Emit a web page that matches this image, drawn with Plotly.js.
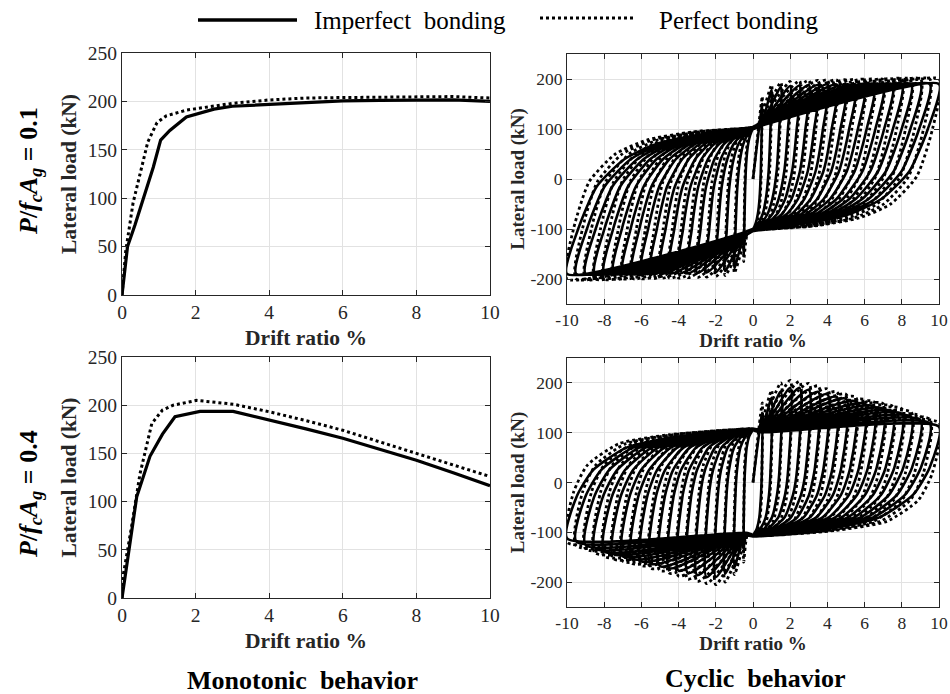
<!DOCTYPE html>
<html><head><meta charset="utf-8">
<script src="https://cdn.plot.ly/plotly-3.0.1.min.js"></script>
<style>html,body{margin:0;padding:0;background:#fff}#chart{width:950px;height:694px}</style>
</head><body><div id="chart"></div>
<script>
// ---------- Monotonic, P/f'cAg = 0.1 ----------
const m1_imp_x  = [0, 0.15, 0.35, 0.6, 0.85, 1.05, 1.3, 1.75, 2.5, 3, 4, 5, 6, 7, 8, 9, 10];
const m1_imp_y  = [0, 50, 72, 102, 132, 160, 170, 184, 192, 195, 197, 199, 200.5, 201, 201.5, 201.5, 200];
const m1_perf_x = [0, 0.1, 0.3, 0.5, 0.7, 0.95, 1.2, 1.75, 2.5, 3, 4, 5, 6, 7, 8, 9, 10];
const m1_perf_y = [0, 45, 95, 128, 158, 178, 185, 191, 195, 198, 201.5, 203.5, 204, 204.5, 205, 205, 203.5];
// ---------- Monotonic, P/f'cAg = 0.4 ----------
const m2_imp_x  = [0, 0.17, 0.4, 0.76, 1.1, 1.44, 2.12, 3.02, 4.02, 5, 6, 7, 8, 9, 10];
const m2_imp_y  = [0, 46, 105, 147, 170, 188, 193.5, 193.5, 184.6, 175.5, 165.7, 154.5, 143, 130, 116.5];
const m2_perf_x = [0, 0.04, 0.26, 0.49, 0.81, 1.1, 1.39, 2.03, 3.03, 4.02, 5, 6, 7, 8, 9, 10];
const m2_perf_y = [0, 25, 74, 129, 181, 195, 200, 205, 201, 193, 184, 174, 162, 150, 138, 126];

// ---------- Cyclic: drift amplitudes of the loops (%) ----------
const cyc_amp = [0.5, 1, 1.5, 2, 2.5, 3, 3.5, 4, 4.5, 5, 5.5, 6, 6.5, 7, 7.5, 8, 8.5, 9, 9.5, 10];

// Cyclic, P/f'cAg = 0.1 — imperfect bonding
const c1_imp_peak  = [150, 178, 184, 186, 187, 188, 188, 189, 189, 189, 189.5, 190, 190, 190, 190, 190, 190, 190, 190, 190];
const c1_imp_arcY  = [-100, -15, 40, 70, 88];
const c1_imp_tail  = 100;
const c1_imp_pinch = [0.4, 106];
const c1_imp_arcX  = [
  [-0.47, -0.42, -0.35, -0.26, -0.15],
  [-0.94, -0.84, -0.69, -0.52, -0.3],
  [-1.41, -1.27, -1.04, -0.78, -0.45],
  [-1.88, -1.68, -1.38, -1.04, -0.6],
  [-2.35, -2.1, -1.73, -1.3, -0.75],
  [-2.82, -2.52, -2.07, -1.56, -0.9],
  [-3.29, -2.94, -2.42, -1.82, -1.05],
  [-3.76, -3.36, -2.76, -2.08, -1.2],
  [-4.23, -3.78, -3.1, -2.34, -1.35],
  [-4.7, -4.2, -3.45, -2.6, -1.5],
  [-5.17, -4.62, -3.8, -2.86, -1.65],
  [-5.64, -5.04, -4.14, -3.12, -1.8],
  [-6.11, -5.46, -4.49, -3.38, -1.95],
  [-6.58, -5.88, -4.83, -3.64, -2.1],
  [-7.05, -6.3, -5.18, -3.9, -2.25],
  [-7.52, -6.72, -5.52, -4.16, -2.4],
  [-7.99, -7.14, -5.87, -4.42, -2.55],
  [-8.46, -7.56, -6.21, -4.68, -2.7],
  [-8.93, -7.98, -6.56, -4.94, -2.85],
  [-9.4, -8.4, -6.9, -5.2, -3.0]
];
// Cyclic, P/f'cAg = 0.1 — perfect bonding
const c1_perf_peak  = [165, 188, 193, 195, 196, 197, 197, 198, 198, 198, 198.5, 199, 199, 199, 199.5, 200, 200, 200, 200, 200];
const c1_perf_arcY  = [-100, -5, 50, 78, 94];
const c1_perf_tail  = 104;
const c1_perf_pinch = [0.3, 110];
const c1_perf_arcX  = [
  [-0.48, -0.44, -0.37, -0.29, -0.17],
  [-0.97, -0.88, -0.74, -0.57, -0.33],
  [-1.45, -1.32, -1.11, -0.86, -0.5],
  [-1.93, -1.76, -1.48, -1.14, -0.66],
  [-2.41, -2.2, -1.85, -1.43, -0.83],
  [-2.9, -2.64, -2.22, -1.71, -0.99],
  [-3.38, -3.08, -2.59, -2.0, -1.16],
  [-3.86, -3.52, -2.96, -2.28, -1.32],
  [-4.34, -3.96, -3.33, -2.57, -1.49],
  [-4.83, -4.4, -3.7, -2.85, -1.65],
  [-5.31, -4.84, -4.07, -3.14, -1.82],
  [-5.79, -5.28, -4.44, -3.42, -1.98],
  [-6.27, -5.72, -4.81, -3.71, -2.15],
  [-6.76, -6.16, -5.18, -3.99, -2.31],
  [-7.24, -6.6, -5.55, -4.28, -2.48],
  [-7.72, -7.04, -5.92, -4.56, -2.64],
  [-8.2, -7.48, -6.29, -4.85, -2.81],
  [-8.69, -7.92, -6.66, -5.13, -2.97],
  [-9.17, -8.36, -7.03, -5.42, -3.14],
  [-9.65, -8.8, -7.4, -5.7, -3.3]
];
// Cyclic, P/f'cAg = 0.4 — imperfect bonding
const c2_imp_peak  = [140, 170, 183, 190, 190, 186, 182, 177, 172, 168, 163, 158, 153, 148, 143, 138, 132, 126, 119, 112];
const c2_imp_arcY  = [-30, 25, 70, 92, 102];
const c2_imp_tail  = 105;
const c2_imp_pinch = [0.4, 101];
const c2_imp_arcX  = [
  [-0.48, -0.43, -0.34, -0.21, -0.07],
  [-0.95, -0.86, -0.68, -0.41, -0.14],
  [-1.43, -1.29, -1.02, -0.62, -0.21],
  [-1.9, -1.72, -1.36, -0.82, -0.28],
  [-2.38, -2.15, -1.7, -1.03, -0.35],
  [-2.85, -2.58, -2.04, -1.23, -0.42],
  [-3.33, -3.01, -2.38, -1.44, -0.49],
  [-3.8, -3.44, -2.72, -1.64, -0.56],
  [-4.28, -3.87, -3.06, -1.85, -0.63],
  [-4.75, -4.3, -3.4, -2.05, -0.7],
  [-5.23, -4.73, -3.74, -2.26, -0.77],
  [-5.7, -5.16, -4.08, -2.46, -0.84],
  [-6.18, -5.59, -4.42, -2.67, -0.91],
  [-6.65, -6.02, -4.76, -2.87, -0.98],
  [-7.13, -6.45, -5.1, -3.08, -1.05],
  [-7.6, -6.88, -5.44, -3.28, -1.12],
  [-8.08, -7.31, -5.78, -3.49, -1.19],
  [-8.55, -7.74, -6.12, -3.69, -1.26],
  [-9.03, -8.17, -6.46, -3.9, -1.33],
  [-9.5, -8.6, -6.8, -4.1, -1.4]
];
// Cyclic, P/f'cAg = 0.4 — perfect bonding
const c2_perf_peak  = [160, 185, 200, 205, 203, 199, 194, 188, 182, 177, 172, 166, 162, 158, 153, 148, 141, 133, 127, 120];
const c2_perf_arcY  = [-20, 35, 78, 96, 105];
const c2_perf_tail  = 108;
const c2_perf_pinch = [0.3, 106];
const c2_perf_arcX  = [
  [-0.48, -0.45, -0.36, -0.23, -0.08],
  [-0.97, -0.89, -0.72, -0.45, -0.16],
  [-1.45, -1.34, -1.08, -0.68, -0.24],
  [-1.93, -1.78, -1.44, -0.9, -0.32],
  [-2.41, -2.23, -1.8, -1.13, -0.4],
  [-2.9, -2.67, -2.16, -1.35, -0.48],
  [-3.38, -3.12, -2.52, -1.58, -0.56],
  [-3.86, -3.56, -2.88, -1.8, -0.64],
  [-4.34, -4.0, -3.24, -2.03, -0.72],
  [-4.83, -4.45, -3.6, -2.25, -0.8],
  [-5.31, -4.9, -3.96, -2.48, -0.88],
  [-5.79, -5.34, -4.32, -2.7, -0.96],
  [-6.27, -5.79, -4.68, -2.93, -1.04],
  [-6.76, -6.23, -5.04, -3.15, -1.12],
  [-7.24, -6.68, -5.4, -3.38, -1.2],
  [-7.72, -7.12, -5.76, -3.6, -1.28],
  [-8.2, -7.57, -6.12, -3.83, -1.36],
  [-8.69, -8.01, -6.48, -4.05, -1.44],
  [-9.17, -8.46, -6.84, -4.28, -1.52],
  [-9.65, -8.9, -7.2, -4.5, -1.6]
];

// Tick labels
const mono_xticks = [0, 2, 4, 6, 8, 10];
const mono_yticks = [0, 50, 100, 150, 200, 250];
const cyc_xticks  = [-10, -8, -6, -4, -2, 0, 2, 4, 6, 8, 10];
const cyc_yticks  = [-200, -100, 0, 100, 200];

// Join the read loop points into one load path (each loop is point-symmetric about the origin)
function loopPath(amp, peak, arcX, arcY, tail, pinch) {
  const xs = [0], ys = [0];
  for (let k = 0; k < amp.length; k++) {
    xs.push(amp[k]); ys.push(peak[k]);
    arcX[k].forEach((v, j) => { xs.push(-v); ys.push(-arcY[j]); });
    xs.push(0); ys.push(-tail);
    xs.push(-pinch[0]); ys.push(-pinch[1]);
    xs.push(-amp[k]); ys.push(-peak[k]);
    arcX[k].forEach((v, j) => { xs.push(v); ys.push(arcY[j]); });
    xs.push(0); ys.push(tail);
    xs.push(pinch[0]); ys.push(pinch[1]);
  }
  return {x: xs, y: ys};
}

const FONT = 'Liberation Serif';
const solid = {color: '#000', width: 3.2};
const dotted = {color: '#000', width: 3, dash: 'dot'};
const solidC = {color: '#000', width: 2.6, shape: 'spline', smoothing: 0.6};
const dottedC = {color: '#000', width: 2.8, dash: 'dot', shape: 'spline', smoothing: 0.6};

const p1i = loopPath(cyc_amp, c1_imp_peak, c1_imp_arcX, c1_imp_arcY, c1_imp_tail, c1_imp_pinch);
const p1p = loopPath(cyc_amp, c1_perf_peak, c1_perf_arcX, c1_perf_arcY, c1_perf_tail, c1_perf_pinch);
const p2i = loopPath(cyc_amp, c2_imp_peak, c2_imp_arcX, c2_imp_arcY, c2_imp_tail, c2_imp_pinch);
const p2p = loopPath(cyc_amp, c2_perf_peak, c2_perf_arcX, c2_perf_arcY, c2_perf_tail, c2_perf_pinch);

const traces = [
  {x: m1_imp_x, y: m1_imp_y, mode: 'lines', line: solid, name: 'Imperfect bonding', xaxis: 'x', yaxis: 'y'},
  {x: m1_perf_x, y: m1_perf_y, mode: 'lines', line: dotted, name: 'Perfect bonding', xaxis: 'x', yaxis: 'y'},
  {x: p1i.x, y: p1i.y, mode: 'lines', line: solidC, name: 'Imperfect bonding', xaxis: 'x2', yaxis: 'y2'},
  {x: p1p.x, y: p1p.y, mode: 'lines', line: dottedC, name: 'Perfect bonding', xaxis: 'x2', yaxis: 'y2'},
  {x: m2_imp_x, y: m2_imp_y, mode: 'lines', line: solid, name: 'Imperfect bonding', xaxis: 'x3', yaxis: 'y3'},
  {x: m2_perf_x, y: m2_perf_y, mode: 'lines', line: dotted, name: 'Perfect bonding', xaxis: 'x3', yaxis: 'y3'},
  {x: p2i.x, y: p2i.y, mode: 'lines', line: solidC, name: 'Imperfect bonding', xaxis: 'x4', yaxis: 'y4'},
  {x: p2p.x, y: p2p.y, mode: 'lines', line: dottedC, name: 'Perfect bonding', xaxis: 'x4', yaxis: 'y4'}
];

const labs = a => a.map(v => String(v));
function ax(size, extra) {
  return Object.assign({
    showline: true, mirror: 'ticks', linecolor: '#262626', linewidth: 1,
    ticks: 'inside', ticklen: 5, tickcolor: '#262626', tickwidth: 1,
    showgrid: true, gridcolor: '#e2e2e2', gridwidth: 1, zeroline: false,
    tickmode: 'array',
    tickfont: {family: FONT, size: size, color: '#262626'}, fixedrange: true
  }, extra);
}
const xTitleL = {text: '<b>Drift ratio %</b>', font: {family: FONT, size: 21.5, color: '#262626'}, standoff: 7};
const yTitleL = {text: '<b>Lateral load (kN)</b>', font: {family: FONT, size: 21.5, color: '#262626'}, standoff: 5};
const xTitleR = {text: '<b>Drift ratio %</b>', font: {family: FONT, size: 19, color: '#262626'}, standoff: 4};
const yTitleR = {text: '<b>Lateral load (kN)</b>', font: {family: FONT, size: 19, color: '#262626'}, standoff: 0};

const W = 950, H = 694;
const px = v => v / W, py = v => 1 - v / H;

const monoX = {range: [0, 10], tickvals: mono_xticks, ticktext: labs(mono_xticks)};
const monoY = {range: [0, 250], tickvals: mono_yticks, ticktext: labs(mono_yticks)};
const cycX  = {range: [-10, 10], tickvals: cyc_xticks, ticktext: labs(cyc_xticks)};
const cycY  = {range: [-250, 250], tickvals: cyc_yticks, ticktext: labs(cyc_yticks)};

const layout = {
  width: W, height: H, margin: {l: 0, r: 0, t: 0, b: 0},
  paper_bgcolor: '#fff', plot_bgcolor: '#fff', showlegend: false,
  font: {family: FONT, color: '#262626'},
  xaxis:  ax(19.5, Object.assign({domain: [px(122), px(490)], anchor: 'y', title: xTitleL}, monoX)),
  yaxis:  ax(19.5, Object.assign({domain: [py(295), py(53)], anchor: 'x', title: yTitleL}, monoY)),
  xaxis2: ax(17.5, Object.assign({domain: [px(567), px(939)], anchor: 'y2', title: xTitleR}, cycX)),
  yaxis2: ax(17.5, Object.assign({domain: [py(304), py(54)], anchor: 'x2', title: yTitleR}, cycY)),
  xaxis3: ax(19.5, Object.assign({domain: [px(122), px(490)], anchor: 'y3', title: xTitleL}, monoX)),
  yaxis3: ax(19.5, Object.assign({domain: [py(598), py(357)], anchor: 'x3', title: yTitleL}, monoY)),
  xaxis4: ax(17.5, Object.assign({domain: [px(567), px(939)], anchor: 'y4', title: xTitleR}, cycX)),
  yaxis4: ax(17.5, Object.assign({domain: [py(607), py(358)], anchor: 'x4', title: yTitleR}, cycY)),
  shapes: [
    {type: 'line', xref: 'paper', yref: 'paper', x0: px(198), x1: px(297), y0: py(20), y1: py(20), line: {color: '#000', width: 3.5}},
    {type: 'line', xref: 'paper', yref: 'paper', x0: px(540), x1: px(635), y0: py(18), y1: py(18), line: {color: '#000', width: 3, dash: 'dot'}}
  ],
  annotations: [
    {xref: 'paper', yref: 'paper', x: px(312), y: py(21), xanchor: 'left', yanchor: 'middle', showarrow: false,
     text: 'Imperfect  bonding', font: {family: FONT, size: 25, color: '#000'}},
    {xref: 'paper', yref: 'paper', x: px(657), y: py(21), xanchor: 'left', yanchor: 'middle', showarrow: false,
     text: 'Perfect bonding', font: {family: FONT, size: 25, color: '#000'}},
    {xref: 'paper', yref: 'paper', x: px(30), y: py(171), xanchor: 'center', yanchor: 'middle', showarrow: false, textangle: -90,
     text: '<b><i>P</i>/<i>f</i><sub><i>c</i></sub><i>A</i><sub><i>g</i></sub> = 0.1</b>', font: {family: FONT, size: 26, color: '#000'}},
    {xref: 'paper', yref: 'paper', x: px(30), y: py(494), xanchor: 'center', yanchor: 'middle', showarrow: false, textangle: -90,
     text: '<b><i>P</i>/<i>f</i><sub><i>c</i></sub><i>A</i><sub><i>g</i></sub> = 0.4</b>', font: {family: FONT, size: 26, color: '#000'}},
    {xref: 'paper', yref: 'paper', x: px(302), y: py(680), xanchor: 'center', yanchor: 'middle', showarrow: false,
     text: '<b>Monotonic  behavior</b>', font: {family: FONT, size: 26, color: '#000'}},
    {xref: 'paper', yref: 'paper', x: px(755), y: py(678), xanchor: 'center', yanchor: 'middle', showarrow: false,
     text: '<b>Cyclic  behavior</b>', font: {family: FONT, size: 26, color: '#000'}}
  ]
};

Plotly.newPlot('chart', traces, layout, {displayModeBar: false, staticPlot: true});
</script>
</body></html>
